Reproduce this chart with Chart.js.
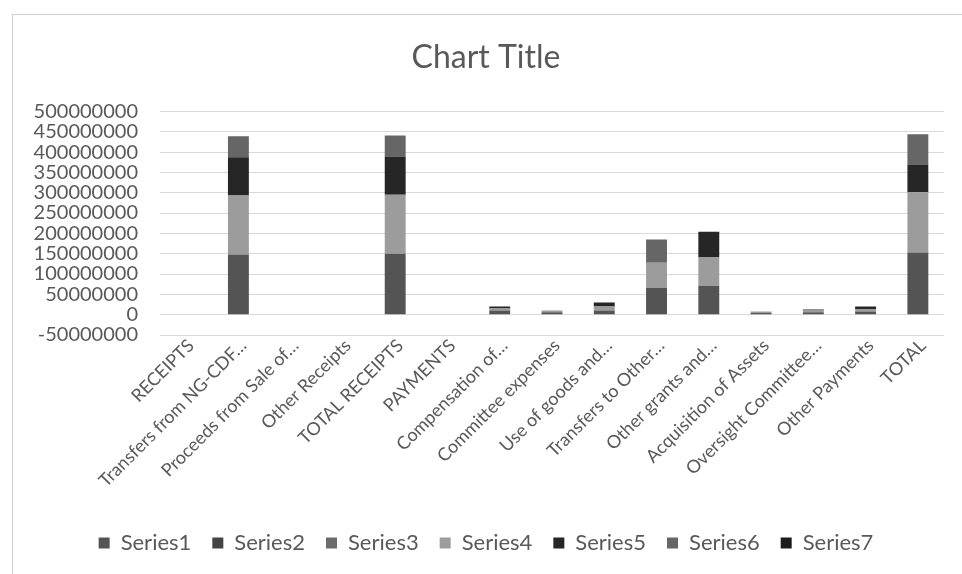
<!DOCTYPE html>
<html>
<head>
<meta charset="utf-8">
<script src="https://cdn.jsdelivr.net/npm/chart.js@4/dist/chart.umd.min.js"></script>
<style>
  html, body { margin: 0; padding: 0; background: #ffffff; }
  #wrap { position: relative; width: 962px; height: 574px; }
</style>
</head>
<body>
<div id="wrap"><canvas id="c" width="962" height="574"></canvas></div>
<script>
// Row labels of the statement
const categories = [
  'RECEIPTS',
  'Transfers from NG-CDF…',
  'Proceeds from Sale of…',
  'Other Receipts',
  'TOTAL RECEIPTS',
  'PAYMENTS',
  'Compensation of…',
  'Committee expenses',
  'Use of goods and…',
  'Transfers to Other…',
  'Other grants and…',
  'Acquisition of Assets',
  'Oversight Committee…',
  'Other Payments',
  'TOTAL'
];

// Column values per row
const series1 = [0, 148000000, 0, 0, 150000000, 0, 10000000, 6000000, 10000000, 66000000, 71000000, 4000000, 6000000, 8000000, 153000000];
const series2 = [0, 0, 0, 0, 0, 0, 0, 0, 0, 0, 0, 0, 0, 0, 0];
const series3 = [0, 0, 0, 0, 0, 0, 0, 0, 0, 0, 0, 0, 0, 0, 0];
const series4 = [0, 145000000, 0, 0, 145000000, 0, 5000000, 4000000, 10000000, 62000000, 71000000, 4000000, 4000000, 6000000, 148000000];
const series5 = [0, 94000000, 0, 0, 94000000, 0, 5000000, 0, 10000000, 0, 62000000, 0, 3000000, 6000000, 67000000];
const series6 = [0, 52000000, 0, 0, 52000000, 0, 0, 0, 0, 57000000, 0, 0, 0, 0, 76000000];
const series7 = [0, 0, 0, 0, 0, 0, 0, 0, 0, 0, 0, 0, 0, 0, 0];

const seriesNames = ['Series1', 'Series2', 'Series3', 'Series4', 'Series5', 'Series6', 'Series7'];
const seriesData = [series1, series2, series3, series4, series5, series6, series7];
const seriesColors = ['#545454', '#444444', '#6c6c6c', '#9c9c9c', '#262626', '#666666', '#1c1c1c'];

// Y axis range and tick step
const yMin = -50000000;
const yMax = 500000000;
const yStep = 50000000;

const FONT = 'Lato, "Open Sans", sans-serif';
const TEXT = '#595959';

// Thin frame round the chart area
const framePlugin = {
  id: 'frame',
  beforeDraw(chart) {
    const ctx = chart.ctx;
    ctx.save();
    ctx.fillStyle = '#ffffff';
    ctx.fillRect(0, 0, chart.width, chart.height);
    ctx.strokeStyle = '#cfcfcf';
    ctx.lineWidth = 1;
    ctx.strokeRect(12.5, 14.5, chart.width, chart.height);
    ctx.restore();
  }
};

new Chart(document.getElementById('c'), {
  type: 'bar',
  data: {
    labels: categories,
    datasets: seriesNames.map((name, i) => ({
      label: name,
      data: seriesData[i],
      backgroundColor: seriesColors[i],
      borderWidth: 0,
      categoryPercentage: 1,
      barPercentage: 0.4
    }))
  },
  plugins: [framePlugin],
  options: {
    responsive: false,
    animation: false,
    devicePixelRatio: 1,
    layout: { padding: { left: 28, right: 18, top: 14, bottom: 10 } },
    plugins: {
      title: {
        display: true,
        text: 'Chart Title',
        color: TEXT,
        font: { family: FONT, size: 32, weight: 'normal', lineHeight: 1.2 },
        padding: { top: 24, bottom: 35 }
      },
      legend: {
        position: 'bottom',
        labels: {
          color: TEXT,
          font: { family: FONT, size: 22 },
          boxWidth: 11,
          boxHeight: 11,
          padding: 21
        }
      },
      tooltip: { enabled: false }
    },
    scales: {
      x: {
        stacked: true,
        grid: { display: false, drawTicks: false },
        border: { display: false },
        ticks: {
          color: TEXT,
          font: { family: FONT, size: 18 },
          minRotation: 45,
          maxRotation: 45,
          autoSkip: false,
          padding: 0,
          labelOffset: 5
        },
        afterFit(scale) { scale.height = 176; }
      },
      y: {
        stacked: true,
        min: yMin,
        max: yMax,
        grid: { color: '#d9d9d9', drawTicks: false },
        border: { display: false },
        ticks: {
          stepSize: yStep,
          autoSkip: false,
          color: TEXT,
          font: { family: FONT, size: 20, lineHeight: 1 },
          padding: 22,
          callback: (v) => String(v)
        },
        afterFit(scale) { scale.width = 132; }
      }
    }
  }
});
</script>
</body>
</html>
